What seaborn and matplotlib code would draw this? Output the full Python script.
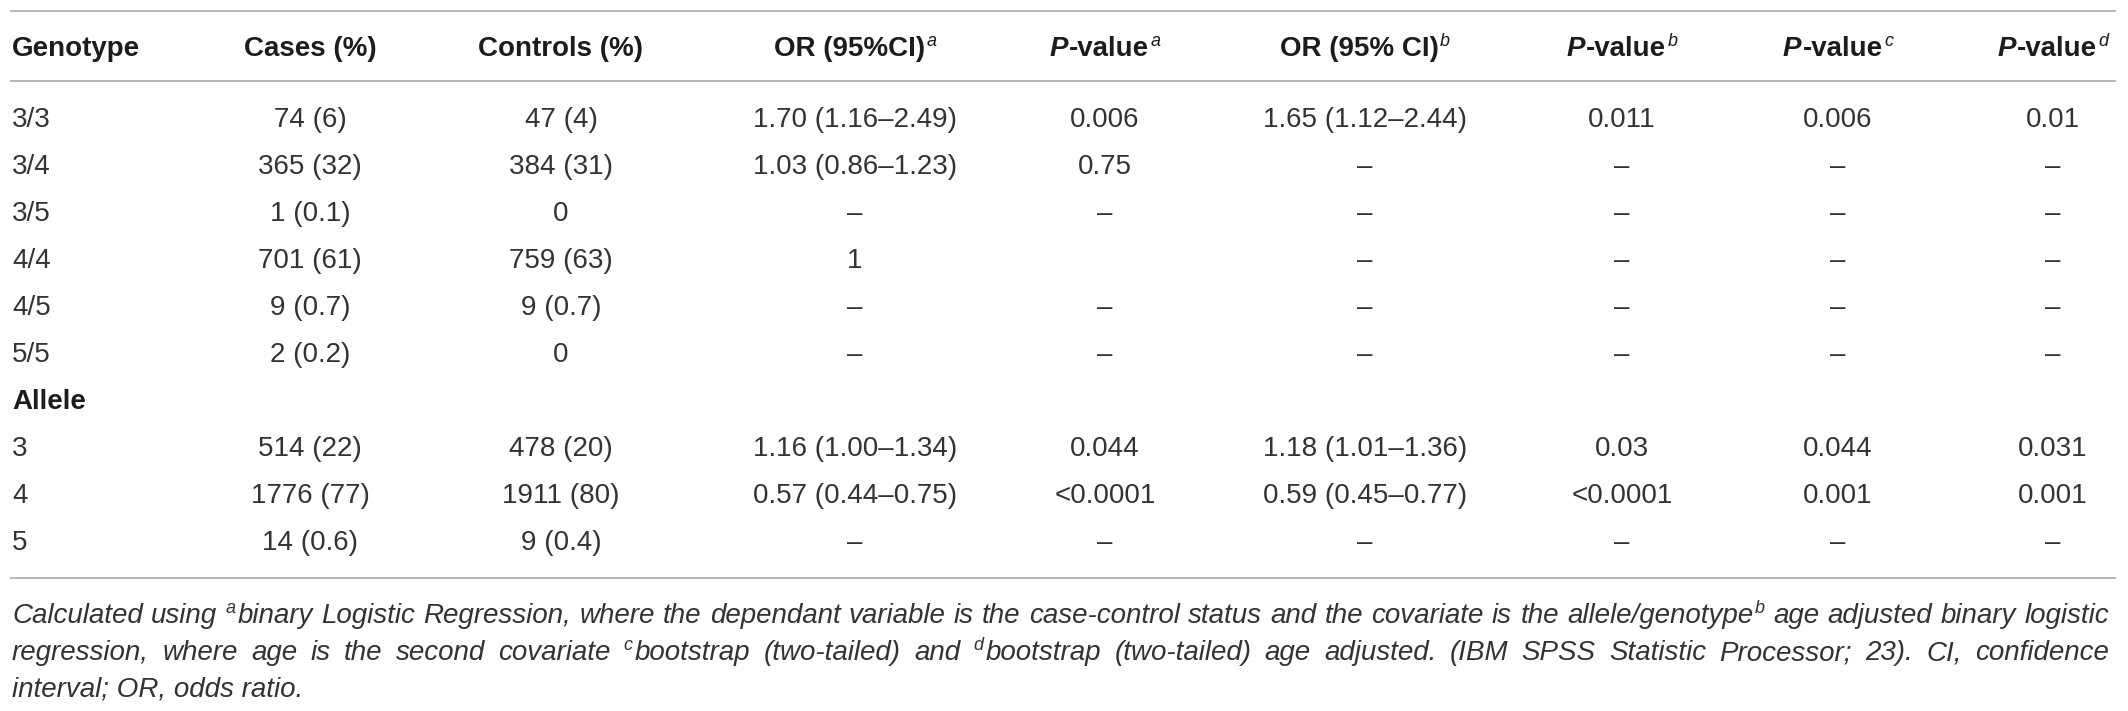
import matplotlib
matplotlib.use("Agg")
import matplotlib.pyplot as plt
import seaborn as sns

# ---------------- data ----------------
row_labels = ["3/3", "3/4", "3/5", "4/4", "4/5", "5/5", "Allele", "3", "4", "5"]
bold_rows = ["Allele"]
cases = ["74 (6)", "365 (32)", "1 (0.1)", "701 (61)", "9 (0.7)", "2 (0.2)", "",
         "514 (22)", "1776 (77)", "14 (0.6)"]
controls = ["47 (4)", "384 (31)", "0", "759 (63)", "9 (0.7)", "0", "",
            "478 (20)", "1911 (80)", "9 (0.4)"]
or_a = ["1.70 (1.16–2.49)", "1.03 (0.86–1.23)", "–", "1", "–", "–", "",
        "1.16 (1.00–1.34)", "0.57 (0.44–0.75)", "–"]
p_a = ["0.006", "0.75", "–", "", "–", "–", "", "0.044", "<0.0001", "–"]
or_b = ["1.65 (1.12–2.44)", "–", "–", "–", "–", "–", "",
        "1.18 (1.01–1.36)", "0.59 (0.45–0.77)", "–"]
p_b = ["0.011", "–", "–", "–", "–", "–", "", "0.03", "<0.0001", "–"]
p_c = ["0.006", "–", "–", "–", "–", "–", "", "0.044", "0.001", "–"]
p_d = ["0.01", "–", "–", "–", "–", "–", "", "0.031", "0.001", "–"]

# header: (main text, is P-value style, superscript)
headers = [("Genotype", False, ""), ("Cases (%)", False, ""), ("Controls (%)", False, ""),
           ("OR (95%CI)", False, "a"), ("P-value", True, "a"), ("OR (95% CI)", False, "b"),
           ("P-value", True, "b"), ("P-value", True, "c"), ("P-value", True, "d")]
columns = [cases, controls, or_a, p_a, or_b, p_b, p_c, p_d]

foot_line1 = [["Calculated"], ["using"], [("a", True), "binary"], ["Logistic"], ["Regression,"],
              ["where"], ["the"], ["dependant"], ["variable"], ["is"], ["the"], ["case-control"],
              ["status"], ["and"], ["the"], ["covariate"], ["is"], ["the"],
              ["allele/genotype", ("b", True)], ["age"], ["adjusted"], ["binary"], ["logistic"]]
foot_line2 = [["regression,"], ["where"], ["age"], ["is"], ["the"], ["second"], ["covariate"],
              [("c", True), "bootstrap"], ["(two-tailed)"], ["and"], [("d", True), "bootstrap"],
              ["(two-tailed)"], ["age"], ["adjusted."], ["(IBM"], ["SPSS"], ["Statistic"],
              ["Processor;"], ["23)."], ["CI,"], ["confidence"]]
foot_line3 = "interval; OR, odds ratio."

# ---------------- layout ----------------
W, H = 2128, 711
col_x = [12, 310, 561, 855, 1105, 1365, 1622, 1838, 2053]
header_base = 56
row_base0, row_step = 127, 47
line_y = [11, 81, 578]
line_x0, line_x1 = 10, 2116
foot_base = [623, 660, 697]
foot_x0, foot_x1 = 12, 2109

FS = 20
SUP_FS = 13
SUP_RISE = 10
HEAD_COLOR = "#1c1c1c"
BODY_COLOR = "#333333"
LINE_COLOR = "#b5b5b5"

sns.set_theme(style="white")
plt.rcParams['font.family'] = ['Liberation Sans', 'DejaVu Sans']

fig = plt.figure(figsize=(W / 100, H / 100), dpi=100)
ax = fig.add_axes([0, 0, 1, 1])
ax.set_xlim(0, W)
ax.set_ylim(H, 0)
ax.axis('off')
renderer = fig.canvas.get_renderer()


def text_width(s, **kw):
    t = ax.text(0, 100, s, **kw)
    w = t.get_window_extent(renderer).width
    t.remove()
    return w


def draw_rich(x, y, pieces, ha="center"):
    """pieces: list of (text, kwargs, is_sup)"""
    widths = [text_width(s, **kw) for s, kw, sup in pieces]
    gap = 1.5
    total = sum(widths) + gap * (len(pieces) - 1)
    if ha == "center":
        cur = x - total / 2
    elif ha == "right":
        cur = x - total
    else:
        cur = x
    for (s, kw, sup), w in zip(pieces, widths):
        ax.text(cur, y - (SUP_RISE if sup else 0), s, ha="left", va="baseline", **kw)
        cur += w + gap


# rules
ax.hlines(line_y, line_x0, line_x1, color=LINE_COLOR, lw=1.4)

# header
head_kw = dict(fontsize=FS, fontweight="bold", color=HEAD_COLOR)
sup_head_kw = dict(fontsize=SUP_FS, fontstyle="italic", color=HEAD_COLOR)
for i, (txt, is_p, sup) in enumerate(headers):
    pieces = []
    if is_p:
        pieces.append(("P", dict(head_kw, fontstyle="italic"), False))
        pieces.append((txt[1:], head_kw, False))
    else:
        pieces.append((txt, head_kw, False))
    if sup:
        pieces.append((sup, sup_head_kw, True))
    draw_rich(col_x[i], header_base, pieces, ha="left" if i == 0 else "center")

# body
for r, lab in enumerate(row_labels):
    yb = row_base0 + r * row_step
    if lab in bold_rows:
        ax.text(col_x[0], yb, lab, ha="left", va="baseline", fontsize=FS,
                fontweight="bold", color=HEAD_COLOR)
    else:
        ax.text(col_x[0], yb, lab, ha="left", va="baseline", fontsize=FS, color=BODY_COLOR)
    for c, col in enumerate(columns):
        if col[r]:
            ax.text(col_x[c + 1], yb, col[r], ha="center", va="baseline",
                    fontsize=FS, color=BODY_COLOR)

# footnote (justified)
foot_kw = dict(fontsize=FS, fontstyle="italic", color=BODY_COLOR)
foot_sup_kw = dict(fontsize=SUP_FS, fontstyle="italic", color=BODY_COLOR)


def token_pieces(tok):
    out = []
    for p in tok:
        if isinstance(p, tuple):
            out.append((p[0], foot_sup_kw, True))
        else:
            out.append((p, foot_kw, False))
    return out


def justify(line, yb):
    toks = [token_pieces(t) for t in line]
    tw = []
    for pcs in toks:
        ws = [text_width(s, **kw) for s, kw, sup in pcs]
        tw.append((ws, sum(ws) + 2.0 * (len(ws) - 1)))
    total = sum(t[1] for t in tw)
    gap = (foot_x1 - foot_x0 - total) / (len(toks) - 1)
    cur = foot_x0
    for pcs, (ws, wt) in zip(toks, tw):
        c2 = cur
        for (s, kw, sup), w in zip(pcs, ws):
            ax.text(c2, yb - (SUP_RISE if sup else 0), s, ha="left", va="baseline", **kw)
            c2 += w + 2.0
        cur += wt + gap


justify(foot_line1, foot_base[0])
justify(foot_line2, foot_base[1])
ax.text(foot_x0, foot_base[2], foot_line3, ha="left", va="baseline", **foot_kw)

fig.savefig("out.png", dpi=100, facecolor="white")
